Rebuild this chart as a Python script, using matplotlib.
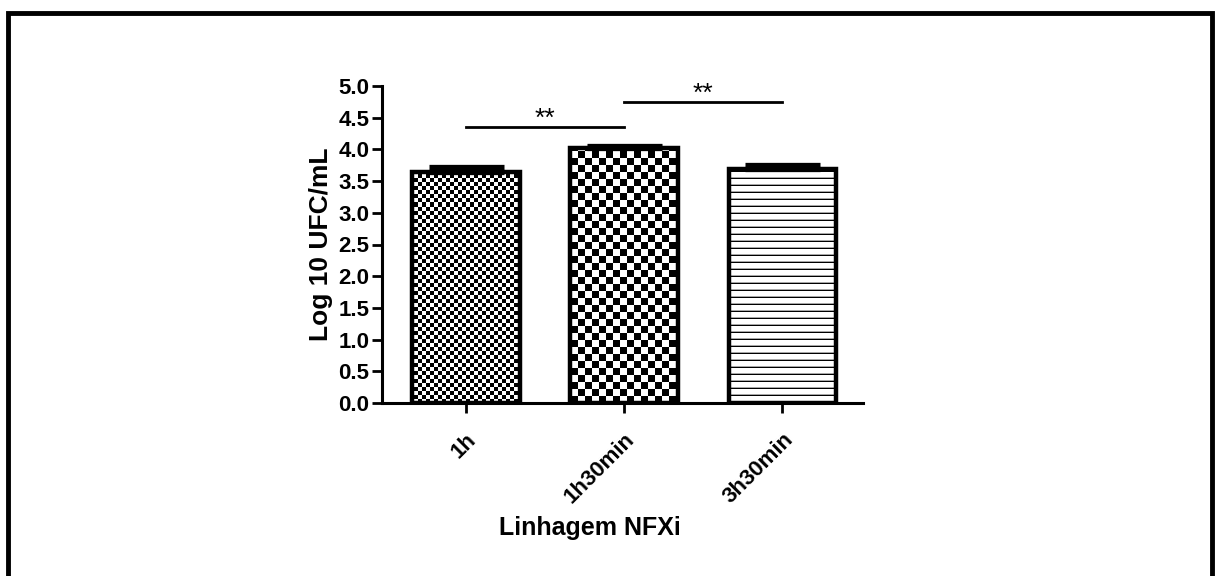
#!/usr/bin/env python3

"""
Bar chart: Log 10 UFC/mL per time, Linhagem NFXi
"""

import numpy as np
import matplotlib
matplotlib.use("Agg")
import matplotlib.pyplot as plt
from matplotlib.patches import Rectangle

categories = ["1h", "1h30min", "3h30min"]
means = [3.65, 4.02, 3.69]
errors = [0.08, 0.03, 0.07]
# significance brackets: (left bar, right bar, height, label)
brackets = [(0, 1, 4.35, "**"), (1, 2, 4.74, "**")]

plt.rcParams["font.family"] = ["Liberation Sans", "DejaVu Sans"]

DPI = 100
W, H = 1218, 576
fig = plt.figure(figsize=(W / DPI, H / DPI), dpi=DPI)
# pixel-aligned axes so the fill patterns render cleanly
ax = fig.add_axes([382 / W, 173 / H, 481 / W, 317 / H])

x = np.arange(len(categories))
ax.set_xlim(-0.53, 2.51)
ax.set_ylim(0, 5.0)

bars = ax.bar(x, means, width=0.68, facecolor="none", edgecolor="black",
              linewidth=3.2, zorder=3)
ax.errorbar(x, means, yerr=[[0] * len(errors), errors], fmt="none",
            ecolor="black", elinewidth=2.5, capsize=27, capthick=3.8, zorder=2)

# fill patterns, drawn as images clipped to the bars
w_px, h_px = 481, 317
lim = (*ax.get_xlim(), *ax.get_ylim())


def checker(cell):
    jj, ii = np.meshgrid(np.arange(w_px), np.arange(h_px))
    return ((jj // cell + ii // cell) % 2).astype(float)


def stripes(period):
    ii = np.arange(h_px)[:, None] * np.ones((1, w_px))
    return np.where(ii % period == 0, 1.0, np.where(ii % period == 1, 0.35, 0.0))


patterns = [checker(4), checker(7), stripes(7)]
for bar, pat in zip(bars, patterns):
    im = ax.imshow(pat, extent=lim, origin="lower", cmap="gray_r", vmin=0, vmax=1,
                   aspect="auto", interpolation="nearest", zorder=1)
    im.set_clip_path(bar)
ax.set_xlim(lim[0], lim[1])
ax.set_ylim(lim[2], lim[3])

for left, right, h, label in brackets:
    ax.plot([x[left], x[right]], [h, h], color="black", lw=2, zorder=4)
    ax.text((x[left] + x[right]) / 2, h - 0.06, label, ha="center", va="bottom",
            fontsize=19)

ax.set_yticks(np.arange(0, 5.01, 0.5))
ax.set_yticklabels([f"{v:.1f}" for v in np.arange(0, 5.01, 0.5)],
                   fontsize=16, fontweight="bold")
ax.set_xticks(x)
ax.set_xticklabels(categories, rotation=45, ha="right", va="top",
                   rotation_mode="anchor", fontsize=16, fontweight="bold")
ax.tick_params(axis="both", direction="out", length=7, width=2, pad=2)
ax.tick_params(axis="x", pad=12)

for side in ("top", "right"):
    ax.spines[side].set_visible(False)
for side in ("left", "bottom"):
    ax.spines[side].set_linewidth(2.2)

ax.set_ylabel("Log 10 UFC/mL", fontsize=19, fontweight="bold", labelpad=4)
ax.set_xlabel("Linhagem NFXi", fontsize=18, fontweight="bold")
ax.xaxis.set_label_coords(0.432, -0.358)

# outer frame around the picture
fig.patches.append(Rectangle((0.0065, -0.05), 0.9885, 1.028, transform=fig.transFigure,
                             fill=False, edgecolor="black", linewidth=3.5))

plt.savefig("out.png", dpi=DPI)
